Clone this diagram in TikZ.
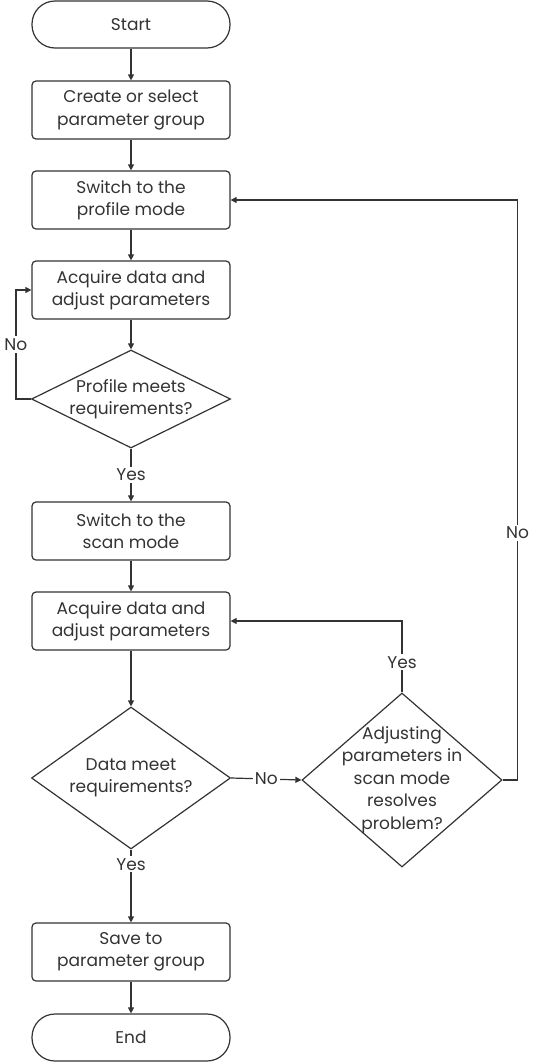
\documentclass[tikz,border=0pt]{standalone}
\usepackage{fontspec}
\setmainfont{Poppins}
\usetikzlibrary{shapes.geometric,arrows.meta,calc}
\definecolor{ink}{HTML}{333333}
\tikzset{
  every node/.style={font=\fontsize{17}{22.5}\selectfont, text=ink},
  procbox/.style={draw=ink, line width=1.2pt, rounded corners=4pt, minimum width=198pt, minimum height=58pt, align=center, inner sep=0pt},
  termbox/.style={draw=ink, line width=1.2pt, rounded corners=23pt, minimum width=198pt, minimum height=47pt, align=center, inner sep=0pt},
  decbox/.style={draw=ink, line width=1.2pt, diamond, inner sep=0pt},
  dectext/.style={align=center, inner sep=0pt},
  conn/.style={draw=ink, line width=1.2pt, -{Triangle[length=6pt,width=6pt]}},
  lbl/.style={fill=white, inner sep=2pt}
}
\begin{document}
\begin{tikzpicture}[x=1pt,y=-1pt]
\useasboundingbox (0,0) rectangle (534,1063);
\node[termbox] (start) at (131,24.5) {Start};
\node[procbox] (b1) at (131,110) {Create or select\\parameter group};
\node[procbox] (b2) at (131,200) {Switch to the\\profile mode};
\node[procbox] (b3) at (131,290) {Acquire data and\\adjust parameters};
\node[decbox, minimum width=199pt, minimum height=98pt] (d1) at (131,399) {};
\node[dectext] (t1) at (d1.center) {Profile meets\\requirements?};
\node[procbox] (b4) at (131,531) {Switch to the\\scan mode};
\node[procbox] (b5) at (131,621) {Acquire data and\\adjust parameters};
\node[decbox, minimum width=199pt, minimum height=142pt] (d2) at (131,778) {};
\node[dectext] (t2) at (d2.center) {Data meet\\requirements?};
\node[decbox, minimum width=200pt, minimum height=174pt] (d3) at (402,780) {};
\node[dectext] (t3) at (d3.center) {Adjusting\\parameters in\\scan mode\\resolves\\problem?};
\node[procbox] (b6) at (131,952) {Save to\\parameter group};
\node[termbox] (end) at (131,1037.5) {End};

\coordinate (l1) at ($(d1.west)+(-15,0)$);
\coordinate (l2) at (l1 |- b3.west);
\coordinate (r1) at ($(d3.east)+(15,0)$);
\coordinate (r2) at (r1 |- b2.east);
\coordinate (y1) at (d3.north |- b5.east);

\draw[conn] (start) -- (b1);
\draw[conn] (b1) -- (b2);
\draw[conn] (b2) -- (b3);
\draw[conn] (b3) -- (d1.north);
\draw[conn] (d1.south) -- node[lbl]{Yes} (b4.north);
\draw[conn] (d1.west) -- (l1) -- node[lbl]{No} (l2) -- (b3.west);
\draw[conn] (b4) -- (b5);
\draw[conn] (b5) -- (d2.north);
\draw[conn] (d2.south) -- node[lbl, pos=0.2]{Yes} (b6.north);
\draw[conn] (b6) -- (end);
\draw[conn] (d2.east) -- node[lbl]{No} (d3.west);
\draw[conn] (d3.north) -- node[lbl, pos=0.42]{Yes} (y1) -- (b5.east);
\draw[conn] (d3.east) -- (r1) -- node[lbl, pos=0.426]{No} (r2) -- (b2.east);
\end{tikzpicture}
\end{document}
